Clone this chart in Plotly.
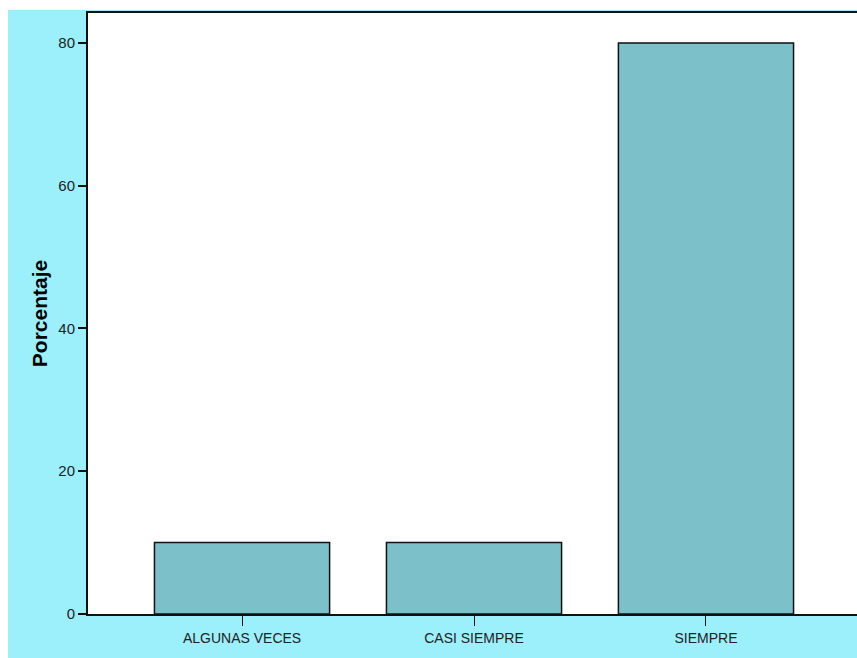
import plotly.graph_objects as go

categories = ["ALGUNAS VECES", "CASI SIEMPRE", "SIEMPRE"]
percentages = [10, 10, 80]
y_ticks = [0, 20, 40, 60, 80]

W, H = 857, 658
L, R, T, B = 88, 0, 13, 44
pw, ph = W - L - R, H - T - B

fig = go.Figure(go.Bar(
    x=categories, y=percentages,
    width=0.755,
    marker=dict(color="#7CC0CA", line=dict(color="#111111", width=1.5)),
))

cyan = "#9CF0FC"
fig.update_layout(
    width=W, height=H,
    margin=dict(l=L, r=R, t=T, b=B, pad=0),
    paper_bgcolor=cyan,
    plot_bgcolor="white",
    showlegend=False,
    font=dict(family="Liberation Sans Narrow, Arial Narrow, Liberation Sans, sans-serif", size=14, color="#222222"),
    shapes=[
        dict(type="rect", xref="paper", yref="paper", layer="below",
             x0=-L / pw, x1=-(L - 8) / pw, y0=-B / ph, y1=(H - B) / ph,
             fillcolor="white", line=dict(width=0)),
        dict(type="rect", xref="paper", yref="paper", layer="below",
             x0=-L / pw, x1=1, y0=(H - B - 10) / ph, y1=(H - B) / ph,
             fillcolor="white", line=dict(width=0)),
    ],
)
fig.update_xaxes(
    range=[-0.664, 2.651],
    showline=True, linecolor="#111111", linewidth=2, mirror=True,
    ticks="outside", ticklen=10, tickcolor="#111111", tickwidth=1,
    showgrid=False, zeroline=False,
    tickfont=dict(size=14),
)
fig.update_yaxes(
    range=[0, 84.2],
    tickvals=y_ticks,
    showline=True, linecolor="#111111", linewidth=2, mirror=False,
    ticks="outside", ticklen=8, tickcolor="#111111", tickwidth=2,
    showgrid=False, zeroline=False,
    tickfont=dict(size=15),
    title=dict(text="<b>Porcentaje</b>", standoff=5,
               font=dict(family="Liberation Sans, Arial, sans-serif", size=21, color="black")),
)

fig.write_html(
    "out.html",
    config={"displayModeBar": False},
    post_script="document.body.style.margin='0';document.body.style.overflow='hidden';",
)
